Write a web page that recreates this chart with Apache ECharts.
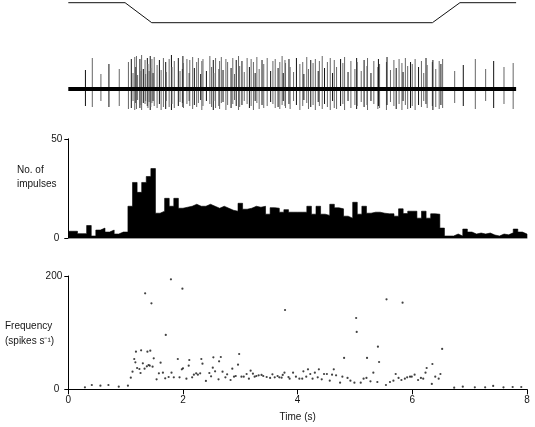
<!DOCTYPE html>
<html><head><meta charset="utf-8">
<script src="https://cdn.jsdelivr.net/npm/echarts@6/dist/echarts.min.js"></script>
<style>html,body{margin:0;padding:0;background:#fff}#c{width:535px;height:427px}</style>
</head><body><div id="c"></div>
<script>
// ---- data ----
const stimTimes = [0, 0.99, 1.455, 6.35, 6.83, 7.81];
const stimLevels = [1, 1, 0, 0, 1, 1];
const traceEnd = 7.81;

const freqTimes = [0.29,0.41,0.56,0.70,0.88,1.04,1.09,1.12,1.15,1.17,
1.18,1.20,1.24,1.26,1.27,1.30,1.33,1.34,
1.37,1.38,1.40,1.42,1.43,1.45,1.47,1.49,
1.54,1.58,1.61,1.65,1.69,1.70,1.75,1.79,1.80,1.84,
1.91,1.94,1.98,1.99,2.00,2.06,2.10,2.11,2.16,2.19,
2.23,2.26,2.30,2.32,2.34,2.40,2.46,2.49,2.52,2.53,
2.56,2.62,2.63,2.66,2.69,2.74,2.77,2.83,2.86,2.89,
2.92,2.96,2.98,3.02,3.06,3.11,3.15,3.18,3.22,3.25,
3.28,3.32,3.37,3.40,3.46,3.52,3.56,3.60,3.65,3.68,
3.72,3.74,3.77,3.78,3.84,3.86,
3.92,3.97,4.03,4.08,4.10,4.15,4.18,4.22,
4.26,4.30,4.35,4.37,4.42,4.46,4.51,4.56,4.60,4.63,
4.67,4.74,4.78,4.81,4.87,4.92,4.99,5.02,5.03,5.10,
5.15,5.20,5.21,5.27,5.32,5.39,5.40,5.42,5.54,5.55,
5.61,5.67,5.71,5.76,5.81,5.83,5.87,5.91,5.96,5.99,
6.04,6.10,6.15,6.19,6.23,6.25,6.34,6.35,6.40,6.46,
6.49,6.52,6.73,6.88,7.09,7.27,7.41,7.59,7.75,7.90];

const freqValues = [3.5,7.6,6.4,7.6,4.7,6.4,20.5,31.1,53.5,47.6,
66.4,37.6,35.8,28.8,68.8,45.8,36.4,169.4,
40.6,66.4,42.9,41.7,68.2,151.8,40,54.7,
17.6,28.2,47,29.4,19.4,95.9,21.7,194.1,29.4,21.1,
53.5,21.1,35.3,177.7,37,18.8,41.7,51.7,21.1,25.8,
28.2,25.8,28.2,53.5,45.3,14.7,28.8,22.9,38.2,56.4,
31.7,17.6,49.4,57,31.1,21.1,26.4,16.4,36.4,22.3,
23.5,43.5,62.3,22.3,22.3,27,18.8,32.9,27.6,22.3,
23.5,24.7,25.3,23.5,21.7,20,26.4,21.1,23.5,21.1,
20.5,25.3,29.4,140,21.7,18.8,
29.4,22.3,18.8,18.8,31.7,22.3,35.3,27,
18.8,29.4,21.1,35.3,17.6,27,27,15.3,25.8,35.3,
24.7,11.7,22.3,55.3,20,15.3,11.7,125.9,101.2,11.7,
18.8,20,55.3,14.1,29.4,12.9,75.3,48.2,7.6,158.8,
12.9,15.3,27,20,16.4,152.9,18.8,21.1,22.3,22.3,
25.8,16.4,20,18.8,29.4,37.6,9.4,44.7,22.3,18.8,
27,71.2,2.9,4.7,3.5,3.5,5.9,3.5,4.1,4.1];

// spike heights in the raw trace (up / down from baseline)
const spikeUp = [19,31,15,25,20,27,30,16,32,22,
33,14,30,18,34,20,29,15,31,25,
18,33,21,30,16,32,24,29,19,31,
27,17,30,34,22,28,31,18,20,33,
26,30,16,29,32,21,27,31,15,28,
30,18,33,22,29,16,31,20,28,32,
19,30,27,21,31,15,29,33,23,28,
17,31,22,30,27,16,32,20,29,25,
31,18,28,30,21,27,33,16,29,26,
30,22,17,31,25,27,15,32,20,29,
26,30,18,28,33,21,27,31,16,29,
22,30,26,32,17,28,20,31,27,18,
29,23,31,16,28,22,30,25,27,32,
19,29,21,30,26,17,31,23,27,25,
30,22,28,16,31,24,27,29,20,28,
25,30,18,24,30,20,28,22,26,0];
const spikeDown = [17,18,12,18,17,20,19,12,21,14,
20,11,19,16,21,14,15,12,17,19,
13,21,18,14,12,17,19,15,21,18,
20,12,18,21,15,19,17,13,14,18,
19,15,12,17,20,16,18,14,11,21,
17,12,15,18,21,12,19,17,20,14,
13,21,16,19,15,11,17,21,18,16,
12,15,19,17,21,12,14,20,16,19,
17,13,15,19,18,20,16,12,17,19,
15,20,12,16,21,17,11,14,20,18,
16,21,13,17,20,15,18,21,12,19,
20,17,15,21,12,19,16,20,17,13,
18,16,21,12,15,20,17,19,21,16,
13,17,20,15,21,12,16,20,19,17,
21,16,18,12,15,19,17,21,18,20,
16,19,14,17,20,12,19,15,20,0];

const binWidth = 0.08;
const histCounts = [3.4,3.4,2.2,2.2,6.3,1,4,5,3,4,
2,3,3,16,28,23,28,31,35,12.5,
13.5,20,16,20,15,15.5,16,17,16,16,
17,16,15,16,15,14,13.5,17.5,14.5,15,
16,15.5,16,12,15.3,15,13,14.3,13,13,
13,13,16,12,16,12,11.4,17,15.2,14.7,
11,10,18,12,16,12.5,13,13,12.5,12.2,
12.2,11,14.7,12.3,13.5,13.5,10,13.5,10,12.2,
12,5,1,1,2,1,4.5,3,2,2.5,
2,2.5,1.5,1,2,1.6,2.6,4.5,3,2];

const timeTicks = [0, 2, 4, 6, 8];
const histTicks = [0, 50];
const freqTicks = [0, 200];

// ---- build ----
const FONT = '"Liberation Sans", Arial, Helvetica, sans-serif';
const TXT = '#151515';
const L = 68.3, W = 458.7;

const stimData = stimTimes.map((t, i) => [t, stimLevels[i]]);
const spikeData = freqTimes.map((t, i) => [t, spikeUp[i], -spikeDown[i]]).filter(d => d[0] <= traceEnd);
const histData = [[0, 0]];
histCounts.forEach((c, i) => { histData.push([i * binWidth, c]); histData.push([(i + 1) * binWidth, c]); });
histData.push([histCounts.length * binWidth, 0]);
const freqData = freqTimes.map((t, i) => [t, freqValues[i]]);

const zeroFmt = v => v === 0 ? '{z|0}' : '{n|' + v + '}';
const labRich = {
  z: {fontSize: 10, fontFamily: FONT, color: TXT, padding: [0, 3, 0, 0]},
  n: {fontSize: 10, fontFamily: FONT, color: TXT}
};

const chart = echarts.init(document.getElementById('c'), null, {renderer: 'canvas'});
chart.setOption({
  animation: false,
  backgroundColor: '#fff',
  grid: [
    {left: L, width: W, top: 2.7, height: 20},
    {left: L, width: W, top: 50, height: 64},
    {left: L, width: W, top: 138.8, height: 99.2},
    {left: L, width: W, top: 276, height: 113.3}
  ],
  xAxis: [
    {gridIndex: 0, type: 'value', min: 0, max: 8, show: false},
    {gridIndex: 1, type: 'value', min: 0, max: 8, show: false},
    {gridIndex: 2, type: 'value', min: 0, max: 8,
      axisLine: {show: true, onZero: false, lineStyle: {color: '#999', width: 1}},
      axisTick: {show: false}, axisLabel: {show: false}, splitLine: {show: false}},
    {gridIndex: 3, type: 'value', min: 0, max: 8, interval: 2,
      axisLine: {show: true, onZero: false, lineStyle: {color: '#000', width: 1}},
      axisTick: {show: true, length: 5, lineStyle: {color: '#000'}},
      axisLabel: {margin: 6, fontSize: 10, fontFamily: FONT, color: TXT},
      splitLine: {show: false},
      name: 'Time (s)', nameLocation: 'middle', nameGap: 23,
      nameTextStyle: {fontSize: 10, fontFamily: FONT, color: TXT}}
  ],
  yAxis: [
    {gridIndex: 0, type: 'value', min: 0, max: 1, show: false},
    {gridIndex: 1, type: 'value', min: -25, max: 39, show: false},
    {gridIndex: 2, type: 'value', min: histTicks[0], max: histTicks[1], interval: 50,
      axisLine: {show: true, lineStyle: {color: '#000', width: 1}},
      axisTick: {show: true, length: 4, lineStyle: {color: '#000'}},
      axisLabel: {margin: 6, formatter: zeroFmt, rich: labRich},
      splitLine: {show: false}},
    {gridIndex: 3, type: 'value', min: freqTicks[0], max: freqTicks[1], interval: 200,
      axisLine: {show: true, lineStyle: {color: '#000', width: 1}},
      axisTick: {show: true, length: 4, lineStyle: {color: '#000'}},
      axisLabel: {margin: 6, formatter: zeroFmt, rich: labRich},
      splitLine: {show: false}}
  ],
  series: [
    {type: 'line', xAxisIndex: 0, yAxisIndex: 0, data: stimData, symbol: 'none',
      clip: false, lineStyle: {color: '#111', width: 1}},
    {type: 'custom', xAxisIndex: 1, yAxisIndex: 1, data: spikeData, clip: false,
      encode: {x: 0, y: [1, 2]},
      renderItem: (params, api) => {
        const x = api.coord([api.value(0), 0])[0];
        const y1 = api.coord([api.value(0), api.value(1)])[1];
        const y2 = api.coord([api.value(0), api.value(2)])[1];
        const dark = params.dataIndex % 3 === 0;
        return {type: 'line', shape: {x1: x + 0.5, y1: y1, x2: x + 0.5, y2: y2},
          style: {stroke: dark ? '#111' : '#666', lineWidth: 1}};
      }},
    {type: 'line', xAxisIndex: 1, yAxisIndex: 1, data: [[0, 0], [traceEnd, 0]], symbol: 'none',
      clip: false, lineStyle: {color: '#000', width: 4}, z: 3},
    {type: 'line', xAxisIndex: 2, yAxisIndex: 2, data: histData, symbol: 'none',
      lineStyle: {color: '#000', width: 0.6}, areaStyle: {color: '#000', opacity: 1}},
    {type: 'scatter', xAxisIndex: 3, yAxisIndex: 3, data: freqData, symbol: 'circle',
      symbolSize: 2.2, itemStyle: {color: '#111'}}
  ],
  graphic: [
    {type: 'text', left: 17, top: 165, style: {text: 'No. of', fontSize: 10, fontFamily: FONT, fill: TXT}},
    {type: 'text', left: 17, top: 179, style: {text: 'impulses', fontSize: 10, fontFamily: FONT, fill: TXT}},
    {type: 'text', left: 5, top: 321, style: {text: 'Frequency', fontSize: 10, fontFamily: FONT, fill: TXT}},
    {type: 'text', left: 5, top: 336, style: {text: '(spikes s\u207B\u00B9)', fontSize: 10, fontFamily: FONT, fill: TXT}}
  ]
});
</script></body></html>
